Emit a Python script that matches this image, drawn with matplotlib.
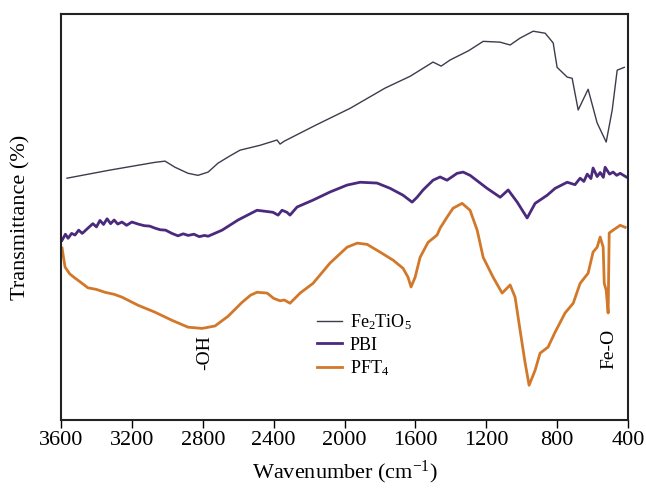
import matplotlib
matplotlib.use("Agg")
import matplotlib.pyplot as plt

plt.rcParams['font.family'] = ['Liberation Serif', 'DejaVu Serif']
plt.rcParams['mathtext.fontset'] = 'custom'
plt.rcParams['mathtext.rm'] = 'Liberation Serif'
plt.rcParams['mathtext.it'] = 'Liberation Serif:italic'

# ---- data (wavenumber cm-1, transmittance arbitrary %) ----
fe_wn = [3566, 3323, 3070, 3013, 2957, 2883, 2827, 2770, 2714, 2650, 2590, 2477, 2381, 2364,
         2341, 2161, 1969, 1771, 1630, 1501, 1455, 1405, 1300, 1218, 1122, 1066, 1010, 936,
         868, 823, 801, 744, 716, 682, 626, 575, 524, 490, 462, 422]
fe_t = [59.6, 61.6, 63.5, 63.8, 62.3, 60.8, 60.3, 61.1, 63.3, 65.0, 66.5, 67.7, 69.0, 68.0,
        68.7, 72.7, 76.8, 81.8, 84.7, 88.2, 87.2, 88.7, 91.0, 93.3, 93.1, 92.4, 94.1, 95.8,
        95.3, 92.9, 86.9, 84.5, 84.2, 76.4, 81.5, 73.2, 68.5, 76.4, 86.2, 86.9]

pbi_wn = [3594, 3575, 3560, 3540, 3521, 3500, 3480, 3448, 3420, 3400, 3380, 3360, 3340,
          3320, 3300, 3280, 3256, 3230, 3200, 3165, 3130, 3100, 3070, 3040, 3010, 2974,
          2940, 2910, 2883, 2850, 2820, 2790, 2770, 2691, 2601, 2494, 2404, 2375, 2353,
          2325, 2308, 2268, 2178, 2082, 1986, 1912, 1817, 1743, 1670, 1619, 1591, 1557,
          1501, 1461, 1422, 1365, 1331, 1292, 1196, 1122, 1077, 1026, 970, 925, 857, 812,
          744, 700, 671, 650, 631, 610, 598, 575, 558, 540, 530, 505, 485, 465, 445, 411]
pbi_t = [44.3, 45.8, 44.8, 46.0, 45.6, 46.8, 46.0, 47.3, 48.4, 47.6, 49.2, 48.2, 49.6,
         48.4, 49.3, 48.3, 48.8, 48.0, 48.8, 48.3, 47.9, 47.8, 47.3, 46.9, 46.8, 46.0,
         45.4, 45.9, 45.5, 45.8, 45.2, 45.5, 45.3, 46.8, 49.3, 51.7, 51.2, 50.5, 51.7,
         51.2, 50.5, 52.5, 54.2, 56.2, 57.9, 58.6, 58.4, 57.1, 55.4, 53.7, 54.9, 56.7,
         59.1, 59.9, 59.1, 60.8, 61.1, 60.3, 57.1, 54.9, 56.7, 53.7, 49.8, 53.4, 55.4, 57.1,
         58.6, 58.0, 59.6, 58.8, 60.6, 59.5, 62.1, 60.0, 61.0, 59.8, 62.3, 60.6, 61.1, 60.3,
         60.8, 59.9]

pft_wn = [3594, 3577, 3550, 3521, 3490, 3448, 3400, 3352, 3300, 3256, 3165, 3070, 2974,
          2883, 2804, 2731, 2657, 2579, 2530, 2494, 2437, 2400, 2364, 2340, 2308, 2251,
          2178, 2082, 1986, 1929, 1873, 1800, 1726, 1670, 1642, 1625, 1602, 1574, 1529,
          1478, 1461, 1422, 1388, 1337, 1292, 1252, 1218, 1162, 1111, 1066, 1038, 1010,
          981, 959, 925, 897, 852, 812, 756, 710, 671, 626, 598, 575, 558, 541, 535, 524,
          513, 507, 485, 445, 417]
pft_t = [42.4, 37.7, 36.0, 35.0, 34.0, 32.6, 32.2, 31.5, 31.0, 30.3, 28.3, 26.6, 24.6,
         22.9, 22.6, 23.2, 25.6, 29.0, 30.8, 31.5, 31.3, 30.0, 29.4, 29.6, 28.8, 31.3,
         33.7, 38.7, 42.6, 43.6, 43.3, 41.4, 39.4, 37.4, 35.2, 32.8, 35.2, 40.1, 43.8,
         45.6, 47.3, 50.0, 52.2, 53.4, 51.7, 46.8, 40.1, 35.2, 31.3, 33.3, 30.3, 22.2,
         14.0, 8.6, 12.3, 16.5, 18.0, 21.7, 26.4, 28.8, 33.7, 36.2, 41.4, 42.6, 45.1,
         42.6, 33.7, 32.0, 26.4, 46.1, 46.8, 48.0, 47.5]

xticks = [3600, 3200, 2800, 2400, 2000, 1600, 1200, 800, 400]

fig = plt.figure(figsize=(6.46, 4.88), dpi=100)
ax = fig.add_axes([0.0944, 0.139, 0.878, 0.832])

ax.plot(fe_wn, fe_t, color='#3c3c4c', lw=1.0, label=r'Fe$_\mathregular{2}$TiO$_\mathregular{5}$')
ax.plot(pbi_wn, pbi_t, color='#4b2a7e', lw=2.0, label='PBI')
ax.plot(pft_wn, pft_t, color='#d2782a', lw=2.0, label=r'PFT$_\mathregular{4}$')

ax.set_xlim(3600, 400)
ax.set_ylim(0, 100)
ax.set_xticks(xticks)
ax.set_xticklabels([str(v) for v in xticks])
ax.set_yticks([])
ax.tick_params(axis='x', direction='out', length=6, width=1, labelsize=16, pad=2)
for s in ax.spines.values():
    s.set_linewidth(1.5)
    s.set_color('#222222')

ax.set_xlabel(r'Wavenumber (cm$^{\mathregular{-1}}$)', fontsize=16, labelpad=6)
ax.set_ylabel('Transmittance (%)', fontsize=16, labelpad=22)

ax.text(2787, 16.7, '-OH', rotation=90, ha='center', va='center', fontsize=14)
ax.text(507, 17.5, 'Fe-O', rotation=90, ha='center', va='center', fontsize=14)

leg = ax.legend(loc='upper left', bbox_to_anchor=(0.422, 0.305), frameon=False,
                fontsize=13, handlelength=1.4, handletextpad=0.45, labelspacing=0.25)

fig.savefig('out.png', dpi=100)
